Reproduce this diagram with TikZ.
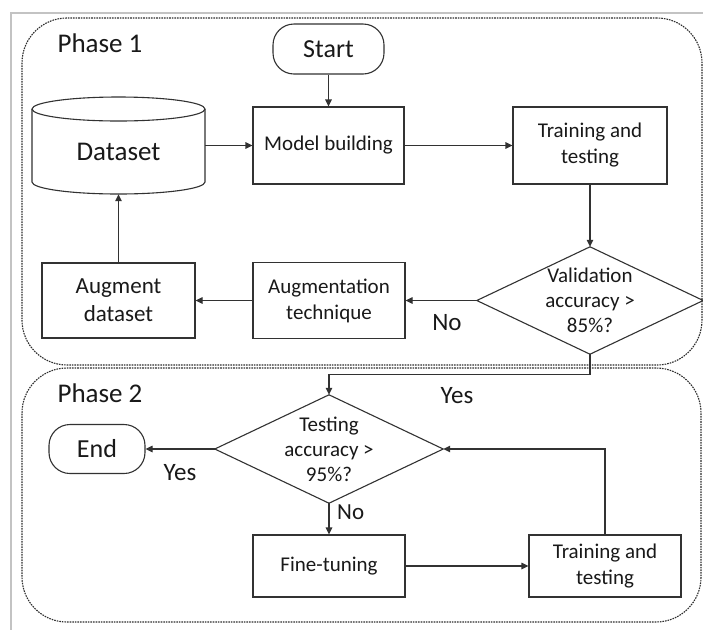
\documentclass[tikz,border=0pt]{standalone}
\usepackage{fontspec}
\setmainfont{Carlito}
\usetikzlibrary{arrows.meta}
\definecolor{linec}{RGB}{50,50,50}
\definecolor{txtc}{RGB}{25,25,25}
\definecolor{framec}{RGB}{195,195,195}
\definecolor{dashc}{RGB}{45,45,45}
\begin{document}
\begin{tikzpicture}[x=1pt,y=-1pt,
  box/.style={draw=linec, line width=1.1pt, inner sep=0pt, align=center, text=txtc,
    font=\fontsize{21}{26}\selectfont},
  term/.style={box, rounded corners=21pt, font=\fontsize{26}{30}\selectfont},
  decis/.style={inner sep=0pt, align=center, text=txtc, font=\fontsize{21}{25}\selectfont},
  diaborder/.style={draw=linec, line width=1.1pt},
  phasebox/.style={draw=dashc, line width=1.1pt, dash pattern=on 1.6pt off 1pt, rounded corners=45pt, inner sep=0pt},
  lbl/.style={text=txtc, inner sep=0pt, font=\fontsize{25}{30}\selectfont},
  phaselbl/.style={text=txtc, inner sep=0pt, font=\fontsize{27}{32}\selectfont},
  arr/.style={draw=linec, line width=1.1pt, -{Triangle[length=7pt,width=6.5pt]}},
  ln/.style={draw=linec, line width=1.1pt}
]
\fill[white] (0,0) rectangle (703,630);
\useasboundingbox (0,0) rectangle (703,630);
% light outer frame
\draw[framec, line width=1.2pt] (703,13) -- (11,13) -- (11,630);

% phase containers
\node[phasebox, minimum width=680pt, minimum height=347pt] (p1) at (362,191.5) {};
\node[phasebox, minimum width=679pt, minimum height=254pt] (p2) at (361.5,495) {};
\node[phaselbl] (p1l) at (100,43) {Phase 1};
\node[phaselbl] (p2l) at (100,393) {Phase 2};

% phase 1 nodes
\node[term, minimum width=111pt, minimum height=50pt] (start) at (328.5,49) {Start};
\node[inner sep=0pt, minimum width=173pt, minimum height=97pt] (ds) at (118.5,145.5) {};
\draw[ln] (118.5,109) ellipse [x radius=86.5pt, y radius=12pt];
\draw[ln] (32,109) -- (32,182) .. controls (32,188.6) and (70.7,194) .. (118.5,194)
  .. controls (166.3,194) and (205,188.6) .. (205,182) -- (205,109);
\node[text=txtc, inner sep=0pt, font=\fontsize{27}{32}\selectfont] (dst) at (118.5,152) {Dataset};
\node[box, minimum width=151pt, minimum height=77pt] (model) at (328.5,145.5) {Model building};
\node[box, minimum width=154pt, minimum height=77pt] (tr1) at (590,145.5) {Training and\\testing};
\node[decis, minimum width=226pt, minimum height=107pt] (v) at (590,300.5) {Validation\\accuracy >\\85\%?};
\draw[diaborder] (v.north) -- (v.east) -- (v.south) -- (v.west) -- cycle;
\node[box, minimum width=152pt, minimum height=76pt] (augt) at (329,300.5) {Augmentation\\technique};
\node[box, minimum width=153pt, minimum height=75pt, font=\fontsize{23}{28}\selectfont] (augd) at (118.5,300.5) {Augment\\dataset};
\node[lbl] (no1) at (447,323) {No};

% phase 2 nodes
\node[decis, minimum width=228pt, minimum height=108pt] (t2) at (329,449) {Testing\\accuracy >\\95\%?};
\draw[diaborder] (t2.north) -- (t2.east) -- (t2.south) -- (t2.west) -- cycle;
\node[term, minimum width=96pt, minimum height=49pt] (end) at (97,449) {End};
\node[box, minimum width=152pt, minimum height=62pt] (fine) at (329,566) {Fine-tuning};
\node[box, minimum width=152pt, minimum height=62pt] (tr2) at (605,566) {Training and\\testing};
\node[lbl] (yes1) at (457,396) {Yes};
\node[lbl] (yes2) at (180,473) {Yes};
\node[lbl, anchor=west, font=\fontsize{23}{28}\selectfont] (no2) at (337,512) {No};

% connectors
\draw[arr] (start.south) -- (model.north);
\draw[arr] (ds.east) -- (model.west);
\draw[arr] (model.east) -- (tr1.west);
\draw[arr] (tr1.south) -- (v.north);
\draw[arr] (v.west) -- (augt.east);
\draw[arr] (augt.west) -- (augd.east);
\draw[arr] (augd.north) -- (ds.south);
\draw[arr] (v.south) -- ++(0,20) -| (t2.north);
\draw[arr] (t2.west) -- (end.east);
\draw[arr] (t2.south) -- (fine.north);
\draw[arr] (fine.east) -- (tr2.west);
\draw[arr] (tr2.north) |- (t2.east);
\end{tikzpicture}
\end{document}
